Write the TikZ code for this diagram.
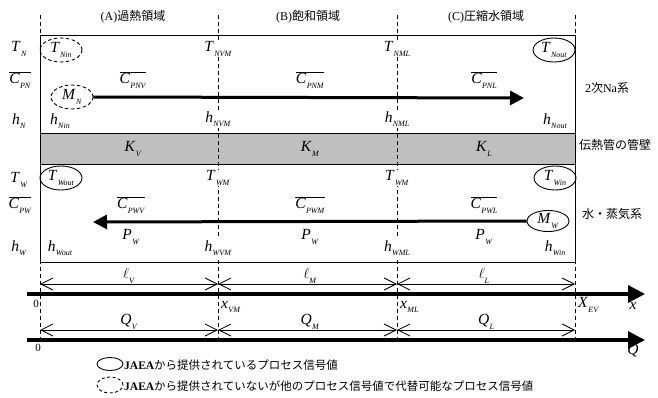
\documentclass[tikz,border=0pt]{standalone}
\usepackage{fontspec}
\setmainfont{Liberation Serif}
\newfontfamily\jp{Noto Sans CJK JP}
\usetikzlibrary{arrows.meta,shapes.geometric}
\newcommand\qv[2]{\textit{#1}\kern0.3pt\raisebox{-0.65ex}{\fontsize{8}{8}\selectfont\textit{#2}}}
\newcommand\qvo[2]{$\overline{\hbox{\qv{#1}{#2}}}$}
\tikzset{
  lbl/.style={inner sep=0pt, font=\fontsize{15.5}{15.5}\selectfont},
  onl/.style={lbl, fill=white, inner sep=1pt},
  jpl/.style={inner sep=0pt, font=\fontsize{12}{12}\selectfont},
  sig/.style={ellipse, draw, line width=0.9pt, inner sep=0pt, minimum width=42pt, minimum height=24pt, font=\fontsize{15.5}{15.5}\selectfont},
  sigd/.style={sig, dash pattern=on 3.5pt off 2.5pt},
  divider/.style={line width=0.8pt, dash pattern=on 4pt off 3pt},
  flow/.style={line width=3pt, -{Triangle[length=14pt,width=14pt]}},
  axis/.style={line width=3.2pt, -{Triangle[length=17pt,width=17pt]}},
  dim/.style={line width=0.8pt, {Straight Barb[length=12pt,width=12pt]}-{Straight Barb[length=12pt,width=12pt]}},
}
\begin{document}
\begin{tikzpicture}[x=1pt,y=-1pt]
\useasboundingbox (0,0) rectangle (658,398);
% gray band
\fill[black!25] (40,133) rectangle (575,164);
% dividers
\coordinate (v0t) at (40,15);  \coordinate (v0b) at (40,340);
\coordinate (v1t) at (218,15); \coordinate (v1b) at (218,340);
\coordinate (v2t) at (397,15); \coordinate (v2b) at (397,340);
\coordinate (v3t) at (575,15); \coordinate (v3b) at (575,340);
\foreach \i in {0,1,2,3} \draw[divider] (v\i t) -- (v\i b);
% boxes
\draw[line width=0.9pt] (40,35) rectangle (575,262);
\draw[line width=0.9pt] (40,133) -- (575,133);
\draw[line width=0.9pt] (40,164) -- (575,164);
% top labels
\node[jpl] (ra) at (133,17) {(A){\jp 過熱領域}};
\node[jpl] (rb) at (308,17) {(B){\jp 飽和領域}};
\node[jpl] (rc) at (486,17) {(C){\jp 圧縮水領域}};
% Na side
\node[lbl] (tn) at (19,49) {\qv{T}{N}};
\node[lbl] (cpn) at (20,80) {\qvo{C}{PN}};
\node[lbl] (hn) at (19,121) {\qv{h}{N}};
\node[sigd] (tnin) at (61,50) {\qv{T}{Nin}};
\node[onl] (tnvm) at (218,49) {\qv{T}{NVM}};
\node[onl] (tnml) at (397,49) {\qv{T}{NML}};
\node[sig] (tnout) at (554,50) {\qv{T}{Nout}};
\node[lbl] (cpnv) at (133,80) {\qvo{C}{PNV}};
\node[lbl] (cpnm) at (310,80) {\qvo{C}{PNM}};
\node[lbl] (cpnl) at (484,80) {\qvo{C}{PNL}};
\node[sigd] (mn) at (72,97) {\qv{M}{N}};
\coordinate (naend) at (524,98);
\draw[flow] (mn.east) -- (naend);
\node[lbl] (hnin) at (60,121) {\qv{h}{Nin}};
\node[onl] (hnvm) at (218,119) {\qv{h}{NVM}};
\node[onl] (hnml) at (397,119) {\qv{h}{NML}};
\node[lbl] (hnout) at (555,121) {\qv{h}{Nout}};
\node[jpl] (na) at (607,88) {2{\jp 次}Na{\jp 系}};
% wall
\node[lbl] (kv) at (133,149) {\qv{K}{V}};
\node[lbl] (km) at (310,149) {\qv{K}{M}};
\node[lbl] (kl) at (484,149) {\qv{K}{L}};
\node[jpl] (wall) at (615,145) {\jp 伝熱管の管壁};
% water side
\node[lbl] (tw) at (19,180) {\qv{T}{W}};
\node[lbl] (cpw) at (20,205) {\qvo{C}{PW}};
\node[lbl] (hw) at (19,248) {\qv{h}{W}};
\node[sig] (twout) at (61,178) {\qv{T}{Wout}};
\node[onl] (twm1) at (218,178) {\qv{T}{WM}};
\node[onl] (twm2) at (397,178) {\qv{T}{WM}};
\node[sig] (twin) at (555,178) {\qv{T}{Win}};
\node[lbl] (cpwv) at (131,205) {\qvo{C}{PWV}};
\node[lbl] (cpwm) at (310,205) {\qvo{C}{PWM}};
\node[lbl] (cpwl) at (484,205) {\qvo{C}{PWL}};
\node[sig, minimum height=21pt] (mw) at (548,221) {\qv{M}{W}};
\coordinate (wend) at (93,222);
\draw[flow] (mw.west) -- (wend);
\node[lbl] (pw1) at (131,237) {\qv{P}{W}};
\node[lbl] (pw2) at (310,237) {\qv{P}{W}};
\node[lbl] (pw3) at (484,237) {\qv{P}{W}};
\node[lbl] (hwout) at (60,248) {\qv{h}{Wout}};
\node[onl] (hwvm) at (218,248) {\qv{h}{WVM}};
\node[onl] (hwml) at (397,248) {\qv{h}{WML}};
\node[lbl] (hwin) at (555,248) {\qv{h}{Win}};
\node[jpl] (water) at (612,214) {\jp 水・蒸気系};
% dimension lines (length)
\coordinate (l0) at (40,284);  \coordinate (l1) at (218,284);
\coordinate (l2) at (397,284); \coordinate (l3) at (575,284);
\draw[dim] (l0) -- (l1);
\draw[dim] (l1) -- (l2);
\draw[dim] (l2) -- (l3);
\node[lbl] (lv) at (129,276) {$\ell$\raisebox{-0.65ex}{\fontsize{8}{8}\selectfont\textit{V}}};
\node[lbl] (lm) at (310,276) {$\ell$\raisebox{-0.65ex}{\fontsize{8}{8}\selectfont\textit{M}}};
\node[lbl] (ll) at (484,276) {$\ell$\raisebox{-0.65ex}{\fontsize{8}{8}\selectfont\textit{L}}};
% x axis
\coordinate (xs) at (27,294); \coordinate (xe) at (645,294);
\draw[axis] (xs) -- (xe);
\node[lbl, font=\fontsize{11}{11}\selectfont, anchor=east] (x0) at (39,304) {0};
\node[lbl, anchor=west] (xvm) at (221,307) {\qv{x}{VM}};
\node[lbl, anchor=west] (xml) at (400,307) {\qv{x}{ML}};
\node[lbl, anchor=west] (xev) at (578,305) {\qv{X}{EV}};
\node[lbl] (xl) at (633,306) {\textit{x}};
% dimension lines (heat)
\coordinate (q0) at (40,330);  \coordinate (q1) at (218,330);
\coordinate (q2) at (397,330); \coordinate (q3) at (575,330);
\draw[dim] (q0) -- (q1);
\draw[dim] (q1) -- (q2);
\draw[dim] (q2) -- (q3);
\node[lbl] (qv) at (129,322) {\qv{Q}{V}};
\node[lbl] (qm) at (310,322) {\qv{Q}{M}};
\node[lbl] (ql) at (486,322) {\qv{Q}{L}};
% Q axis
\coordinate (qs) at (27,340); \coordinate (qe) at (645,340);
\draw[axis] (qs) -- (qe);
\node[lbl, font=\fontsize{11}{11}\selectfont] (q0l) at (38,348) {0};
\node[lbl] (ql2) at (633,351) {\textit{Q}};
% legend
\node[ellipse, draw, line width=0.9pt, minimum width=26pt, minimum height=13pt, inner sep=0pt] (lg1) at (110,364) {};
\node[jpl, anchor=west, font=\fontsize{11.5}{11.5}\selectfont] (lt1) at (124,365) {\textbf{JAEA}{\jp から提供されているプロセス信号値}};
\node[ellipse, draw, line width=0.9pt, dash pattern=on 3pt off 2.5pt, minimum width=26pt, minimum height=16pt, inner sep=0pt] (lg2) at (110,385) {};
\node[jpl, anchor=west, font=\fontsize{11.5}{11.5}\selectfont] (lt2) at (124,386) {\textbf{JAEA}{\jp から提供されていないが他のプロセス信号値で代替可能なプロセス信号値}};
\end{tikzpicture}
\end{document}
